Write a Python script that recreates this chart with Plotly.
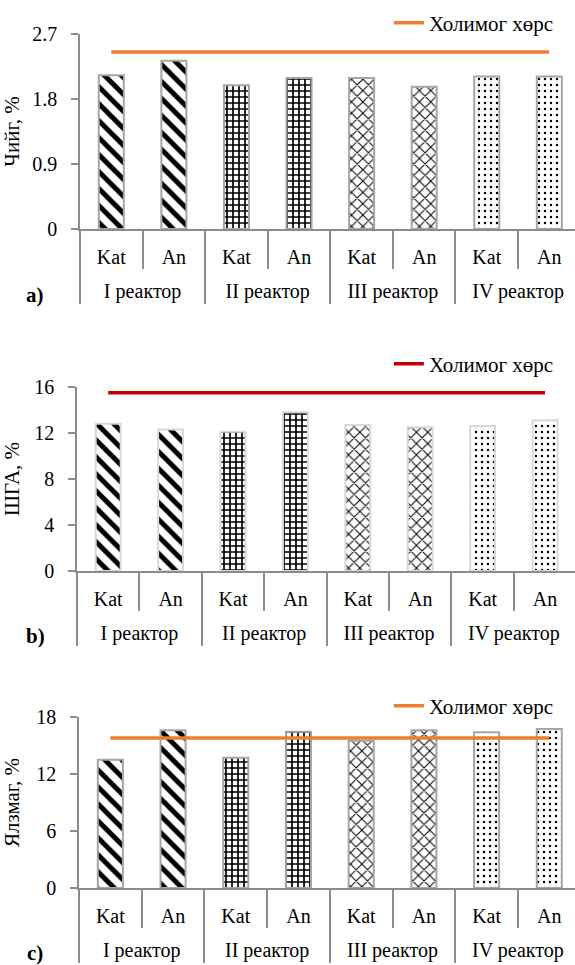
import plotly.graph_objects as go

# ---- data ----
groups = ["I реактор", "I реактор", "II реактор", "II реактор",
          "III реактор", "III реактор", "IV реактор", "IV реактор"]
subs = ["Kat", "An", "Kat", "An", "Kat", "An", "Kat", "An"]

moisture = [2.13, 2.33, 1.99, 2.09, 2.09, 1.97, 2.11, 2.11]          # Чийг, %
shga = [12.8, 12.3, 12.1, 13.8, 12.7, 12.5, 12.6, 13.1]               # ШГА, %
decomp = [13.5, 16.6, 13.7, 16.45, 15.5, 16.6, 16.4, 16.75]           # Ялзмаг, %

limit_a = [2.45, 2.45, 2.45, 2.45, 2.45, 2.45, 2.45, 2.45]
limit_b = [15.5, 15.5, 15.5, 15.5, 15.5, 15.5, 15.5, 15.5]
limit_c = [15.8, 15.8, 15.8, 15.8, 15.8, 15.8, 15.8, 15.8]

legend_name = "Холимог хөрс"
ytitles = ["Чийг, %", "ШГА, %", "Ялзмаг, %"]
panel_labels = ["a)", "b)", "c)"]

# ---- styling ----
FONT = "Liberation Serif, Times New Roman, serif"
FS = 20
W, H = 575, 965
pat_shapes = ["\\", "\\", "+", "+", "x", "x", ".", "."]
pat_sizes = [12, 12, 6, 6, 8, 8, 6, 6]
pat_solid = [0.42, 0.42, 0.48, 0.48, 0.24, 0.24, 0.13, 0.13]

# inner labels get a small blank second line so the outer level sits lower
spacer = "<br><span style='font-size:8px'><sup>\u00a0</sup></span>"
sub_labels = [s + spacer for s in subs]
x = [groups, sub_labels]

panels = [
    dict(vals=moisture, lim=limit_a, lcol="#ED7D31", edge="#A6A6A6",
         left=80, top=34, bottom=229, rng=[-0.5, 7.41], yr=[0, 2.7], dt=0.9,
         leg_y=23),
    dict(vals=shga, lim=limit_b, lcol="#C00000", edge="#D9D9D9",
         left=77, top=387, bottom=571, rng=[-0.5, 7.48], yr=[0, 16], dt=4,
         leg_y=364),
    dict(vals=decomp, lim=limit_c, lcol="#ED7D31", edge="#A6A6A6",
         left=79, top=717, bottom=888, rng=[-0.5, 7.41], yr=[0, 18], dt=6,
         leg_y=706),
]

fig = go.Figure()
layout = dict(
    width=W, height=H, autosize=False,
    margin=dict(l=0, r=0, t=0, b=0, autoexpand=False),
    paper_bgcolor="white", plot_bgcolor="white",
    font=dict(family=FONT, size=FS, color="black"),
    bargap=0.6,
    showlegend=True,
)

for i, p in enumerate(panels):
    sfx = "" if i == 0 else str(i + 1)
    xa, ya = "x" + sfx, "y" + sfx
    legkey = "legend" + sfx
    fig.add_trace(go.Bar(
        x=x, y=p["vals"], xaxis=xa, yaxis=ya, showlegend=False,
        marker=dict(color="white",
                    line=dict(color=p["edge"], width=2),
                    pattern=dict(shape=pat_shapes, size=pat_sizes,
                                 solidity=pat_solid, fgcolor="black",
                                 bgcolor="white", fillmode="replace")),
    ))
    fig.add_trace(go.Scatter(
        x=x, y=p["lim"], xaxis=xa, yaxis=ya, mode="lines",
        name=legend_name, legend=legkey,
        line=dict(color=p["lcol"], width=3.5),
    ))
    ydom = [(H - p["bottom"]) / H, (H - p["top"]) / H]
    layout["xaxis" + sfx] = dict(
        domain=[p["left"] / W, 1], anchor=ya, type="multicategory",
        range=p["rng"], showline=True, linecolor="#8C8C8C", linewidth=1.5,
        ticks="outside", tickson="boundaries", ticklen=38, tickcolor="#8C8C8C",
        tickwidth=1.5, ticklabelstandoff=9, automargin=False,
        showdividers=True, dividercolor="#8C8C8C", dividerwidth=1.5,
        showgrid=False, zeroline=False, fixedrange=True,
        tickfont=dict(family=FONT, size=FS, color="black"),
    )
    layout["yaxis" + sfx] = dict(
        domain=ydom, anchor=xa, range=p["yr"], dtick=p["dt"], tick0=0,
        showline=True, linecolor="#8C8C8C", linewidth=1.5, automargin=False,
        ticks="outside", ticklen=7, tickcolor="#8C8C8C", tickwidth=1.5,
        ticklabelstandoff=10,
        showgrid=False, zeroline=False, fixedrange=True,
        tickfont=dict(family=FONT, size=FS, color="black"),
        title=dict(text=ytitles[i], font=dict(family=FONT, size=FS + 1, color="black")),
    )
    layout[legkey] = dict(
        x=0.972, y=(H - p["leg_y"]) / H, xanchor="right", yanchor="middle",
        bgcolor="rgba(0,0,0,0)", borderwidth=0,
        font=dict(family=FONT, size=FS + 1, color="black"),
    )

label_y = [295, 636, 953]
fig.update_layout(**layout)
for lab, ly in zip(panel_labels, label_y):
    fig.add_annotation(text="<b>" + lab + "</b>", xref="paper", yref="paper",
                       x=35 / W, y=(H - ly) / H, xanchor="center", yanchor="middle",
                       showarrow=False, font=dict(family=FONT, size=FS + 1, color="black"))

fig.write_html("out.html", config={"displayModeBar": False},
               post_script="document.body.style.margin='0';document.body.style.overflow='hidden';")
